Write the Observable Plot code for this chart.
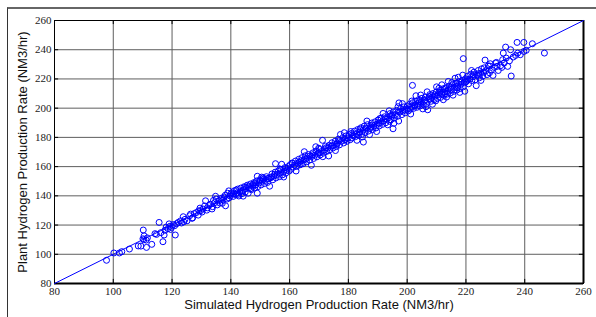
<!DOCTYPE html>
<html>
<head>
<meta charset="utf-8">
<script src="https://cdn.jsdelivr.net/npm/d3@7"></script>
<script src="https://cdn.jsdelivr.net/npm/@observablehq/plot@0.6"></script>
<style>
  html, body { margin: 0; padding: 0; background: #fff; overflow: hidden; }
  #wrap { position: relative; width: 596px; height: 317px; overflow: hidden; }
  #box { position: absolute; left: 7px; top: 7px; width: 700px; height: 400px;
         border-left: 1px solid #333; border-top: 2px solid #666; }
  #chart { position: absolute; left: 0; top: 0; }
  #chart svg g[aria-label="x-axis tick label"] text,
  #chart svg g[aria-label="y-axis tick label"] text { font-family: 'Liberation Serif', 'Times New Roman', serif; }
</style>
</head>
<body>
<div id="wrap"><div id="box"></div><div id="chart"></div></div>
<script>
const xTicks = [80, 100, 120, 140, 160, 180, 200, 220, 240, 260];
const yTicks = [80, 100, 120, 140, 160, 180, 200, 220, 240, 260];
const refLine = [80, 260];
const xTitle = "Simulated Hydrogen Production Rate (NM3/hr)";
const yTitle = "Plant Hydrogen Production Rate (NM3/hr)";

// [simulated, plant] pairs
const pointsLow = [
[97.7,95.9],[100.2,100.9],[102.1,100.9],[102.9,101.8],[105.5,103.6],[108.5,105.7],[109.4,105.6],[110.2,116.6],[110.5,112.6],[110.4,109.9],
[111.2,109.7],[110.1,110.6],[111.3,104.7],[113.1,106.8],[111.6,111.2],
[115.6,121.8],[114.7,113.6],[116.9,108.6],[117.3,113.2],[118.0,118.6],[118.6,117.5],[119.3,119.2],[119.8,118.4],[120.4,120.3],[120.9,119.6],
[121.1,113.2],[117.6,116.4],[119.0,120.8],[122.1,121.8],[122.9,122.9],[123.8,125.7],[123.2,121.4],[124.4,123.9],[125.1,122.9],[116.2,114.8],
[114.2,114.1],[119.5,117.0],[121.6,121.0],[124.0,122.2]
];
const pointsMid1 = [
[126.0,126.4],[126.3,127.5],[127.0,125.0],[128.3,128.6],[129.1,129.8],[129.7,129.8],[131.4,136.6],[133.1,134.3],[134.8,139.7],[135.9,136.6],
[137.4,137.3],[138.2,133.2],[139.3,143.4],[139.9,141.1],[130.5,131.0],[131.8,130.2],[132.5,133.4],[133.8,132.6],[134.5,135.3],[136.2,135.1],
[136.9,138.5],[137.8,139.2],[138.7,137.8],[139.4,138.6],[127.6,127.9],[128.9,126.8],[130.2,128.9],[132.0,131.8],[133.6,131.0],[135.4,133.8],
[136.6,137.2],[138.1,140.4],[139.8,139.9],[126.8,124.6],[129.5,131.6],[131.1,133.1],[134.1,136.9],[135.0,137.8],[137.1,134.9],[138.9,141.8],
[140.3,142.0],[140.8,139.6],[141.2,143.5],[141.6,140.8],[142.0,141.9],[142.3,144.6],[142.7,139.9],[143.1,142.7],[143.4,145.3],[143.8,141.5],
[144.1,143.8],[144.5,146.2],[144.9,142.6],[145.2,144.9],[145.6,147.3],[145.9,141.8],[146.3,145.6],[146.7,148.1],[147.0,144.2],[147.4,146.9],
[147.8,149.0],[148.1,145.4],[148.5,147.6],[148.8,150.2],[149.2,146.3],[149.6,148.8],[149.9,151.0],[150.3,147.5],[150.7,149.9],[151.0,152.3],
[151.4,148.4],[151.8,150.6],[152.1,153.1],[152.5,149.2],[152.9,151.7],[153.2,146.6],[153.6,152.4],[154.0,155.0],[154.3,151.0],[154.7,153.6],
[155.1,156.2],[155.4,152.3],[155.8,154.5],[156.2,157.1],[156.5,153.1],[156.9,155.7],[157.3,161.6],[157.6,154.4],[158.0,156.8],[158.4,159.3],
[158.7,155.5],[159.1,157.6],[159.5,160.0],[159.8,156.9],[141.0,141.4],[143.6,143.0],[146.0,146.5],[148.3,148.9],[150.1,150.4],[152.7,152.0],
[155.0,154.8],[157.1,157.9],[155.2,162.0],[158.0,152.9],[144.2,139.8],[149.0,153.4],[149.0,141.8],
[141.8,143.9],[145.0,146.0],[147.6,147.7],[151.2,151.5],[153.9,153.0],[156.7,158.4],[159.3,158.8],[142.5,141.0],[146.8,144.9],[150.5,152.8]
];
const pointsMid2 = [
[160.2,161.3],[160.5,158.2],[160.9,162.5],[161.3,159.6],[161.6,161.0],[162.0,163.8],[162.4,160.1],[162.7,162.4],[163.1,165.0],[163.5,161.2],
[163.8,163.9],[164.2,166.1],[164.6,162.0],[164.9,164.7],[165.3,167.4],[165.7,163.3],[166.0,165.8],[166.4,168.3],[166.8,164.5],[167.4,160.9],
[167.5,166.9],[167.9,169.4],[168.2,165.6],[168.6,167.8],[169.0,170.6],[169.3,166.7],[169.7,169.0],[170.1,171.8],[170.4,168.0],[170.8,170.3],
[171.2,178.0],[171.5,169.2],[171.9,171.5],[172.2,174.1],[172.6,170.4],[173.0,172.7],[173.3,167.3],[173.7,171.6],[174.1,173.9],[174.4,176.3],
[174.8,172.8],[175.2,175.0],[175.5,177.4],[175.9,173.7],[176.3,176.1],[176.6,178.8],[177.0,174.9],[177.3,182.0],[177.7,177.4],[178.1,179.8],
[178.4,176.2],[178.8,178.5],[179.2,181.0],[179.5,177.3],[179.9,179.6],[161.0,162.2],[163.3,163.0],[165.5,165.2],[167.8,168.1],[170.0,169.5],
[172.4,172.9],[174.6,174.3],[176.9,177.7],[179.0,178.6],[162.2,157.0],[168.9,173.6],[175.6,171.0],[178.6,183.2],[165.0,170.2],[171.3,166.8],
[180.2,181.9],[180.6,178.4],[181.0,182.7],[181.3,179.6],[181.7,181.1],[182.1,184.3],[182.4,180.5],[182.8,182.6],[183.2,185.4],[183.5,181.3],
[183.9,183.8],[184.3,186.6],[184.6,182.1],[185.0,184.9],[185.4,187.7],[185.7,183.2],[186.1,185.9],[186.5,188.7],[186.8,184.3],[187.2,181.9],
[187.6,187.1],[187.9,189.8],[188.3,185.4],[188.7,187.9],[189.0,190.6],[189.4,186.5],[189.8,189.0],[190.1,191.9],[190.5,187.8],[190.9,190.1],
[191.2,193.2],[191.6,188.9],[192.0,191.4],[192.3,194.1],[192.7,190.0],[193.1,192.5],[193.4,188.6],[193.8,193.6],[194.2,196.3],[194.5,192.1],
[194.9,194.5],[195.3,197.4],[195.6,193.2],[196.0,195.6],[196.4,198.5],[196.7,194.4],[197.1,191.2],[197.5,197.3],[197.8,199.8],[198.2,195.6],
[198.6,198.0],[198.9,200.9],[199.3,196.8],[199.7,199.2],[181.4,181.8],[183.7,183.2],[185.9,186.4],[188.1,188.5],[190.3,189.9],[192.6,192.8],
[194.7,195.3],[197.0,197.6],[199.1,198.7],[182.9,178.0],[186.3,191.2],[189.6,184.0],[191.8,196.4],[195.5,189.7],[198.4,203.1],[184.8,180.3],
[193.9,198.2],[196.9,201.0],[195.2,185.9],[185.1,176.8],[197.2,203.6],
[164.0,161.7],[166.9,167.3],[169.9,172.6],[173.5,174.6],[176.0,175.4],[180.8,184.0],[184.0,185.7],[187.4,186.2],[190.7,192.9],[194.0,191.0]
];
const pointsHigh = [
[200.1,201.5],[200.4,198.1],[200.8,202.6],[201.1,199.3],[201.5,200.8],[201.8,215.6],[201.9,203.7],[202.2,199.9],[202.6,202.3],[202.9,204.8],
[203.3,200.6],[203.7,203.2],[204.0,205.9],[204.4,201.5],[204.8,204.1],[205.1,206.8],[205.5,202.4],[205.9,204.9],[206.2,207.6],[206.6,203.3],
[207.0,198.9],[207.3,206.6],[207.7,209.3],[208.1,204.7],[208.4,207.4],[208.8,210.0],[209.2,205.8],[209.5,208.2],[209.9,211.1],[210.3,206.7],
[210.6,209.3],[211.0,212.0],[211.4,207.4],[211.7,210.1],[212.1,213.2],[212.5,208.7],[212.8,211.3],[213.2,214.0],[213.6,209.6],[213.9,212.2],
[214.3,215.1],[214.7,210.4],[215.0,213.0],[215.4,216.1],[215.8,211.5],[216.1,214.3],[216.5,217.0],[216.9,212.4],[217.2,215.2],[217.6,218.2],
[218.0,213.5],[218.3,216.3],[218.7,219.0],[219.1,214.6],[219.1,233.9],[219.4,217.3],[219.8,220.1],[200.9,200.5],[202.5,201.6],[204.2,204.6],
[206.0,205.6],[207.5,208.0],[209.3,209.1],[211.2,210.8],[212.9,213.4],[214.8,214.2],[216.6,216.9],[218.4,218.0],[201.2,196.0],[203.0,208.5],
[205.3,199.5],[206.8,211.2],[208.6,202.7],[210.0,214.6],[212.3,205.8],[214.0,218.3],[215.6,208.9],[217.4,221.2],[219.6,211.6],[209.7,205.0],
[213.4,207.6],[211.8,216.0],[204.6,209.0],[216.3,220.5],[218.9,222.6],[217.9,210.8],
[220.2,218.5],[220.5,221.8],[220.9,216.7],[221.3,220.0],[221.6,223.2],[222.0,218.9],[222.4,221.5],[222.7,224.6],[223.1,219.4],[223.5,215.4],
[223.8,222.7],[224.2,225.8],[224.6,220.8],[224.9,223.6],[225.3,226.9],[225.7,221.9],[226.0,224.7],[226.5,232.9],[226.8,225.6],[227.2,223.0],
[227.6,228.9],[228.0,224.2],[228.3,230.4],[228.7,226.2],[229.7,227.9],[230.6,228.6],[229.2,222.4],[230.1,230.9],[231.0,225.8],[231.8,229.1],
[232.2,227.9],[232.7,237.7],[233.0,230.9],[233.5,241.8],[233.7,234.3],[234.2,228.6],[234.8,232.4],[235.2,240.0],[235.4,222.0],[220.6,219.4],
[222.5,222.9],[224.4,223.7],[226.2,227.6],[228.1,228.8],[230.4,231.3],[232.5,233.2],[221.9,225.8],[225.1,219.0],
[236.1,235.0],[236.9,236.1],[237.4,245.0],[237.6,237.7],[238.5,236.6],[239.7,245.0],[239.7,238.8],[240.5,239.6],[242.6,244.1],[246.7,237.7],
[201.6,204.9],[203.9,202.0],[207.9,206.2],[210.8,213.6],[213.0,210.0],[215.2,217.5],[217.0,213.9],[219.9,217.8],[206.4,201.0],[212.0,209.4]
];
const points = [...pointsLow, ...pointsMid1, ...pointsMid2, ...pointsHigh];

const serif = "'Liberation Serif', 'Times New Roman', serif";
const sans = "'Liberation Sans', Arial, sans-serif";

const chart = Plot.plot({
  width: 596,
  height: 317,
  marginLeft: 54,
  marginRight: 13,
  marginTop: 20,
  marginBottom: 34,
  style: { background: "transparent", overflow: "visible", fontFamily: serif, fontSize: "11px" },
  x: { domain: [80, 260], ticks: xTicks },
  y: { domain: [80, 260], ticks: yTicks },
  marks: [
    Plot.gridX(xTicks, { stroke: "#5e5e5e", strokeOpacity: 1, strokeWidth: 1 }),
    Plot.gridY(yTicks, { stroke: "#5e5e5e", strokeOpacity: 1, strokeWidth: 1 }),
    Plot.ruleX(xTicks, { y1: 80, y2: 82.8, stroke: "#000" }),
    Plot.ruleX(xTicks, { y1: 260, y2: 257.2, stroke: "#000" }),
    Plot.ruleY(yTicks, { x1: 80, x2: 81.4, stroke: "#000" }),
    Plot.ruleY(yTicks, { x1: 260, x2: 258.6, stroke: "#000" }),
    Plot.frame({ stroke: "#000", strokeWidth: 1 }),
    Plot.ruleY([80], { stroke: "#000", strokeWidth: 2 }),
    Plot.ruleX([260], { stroke: "#000", strokeWidth: 2 }),
    Plot.line(refLine, { x: d => d, y: d => d, stroke: "#0000ff", strokeWidth: 1 }),
    Plot.dot(points, { x: d => d[0], y: d => d[1], r: 3, stroke: "#0000ff", strokeWidth: 1, fill: "none" }),
    Plot.axisX(xTicks, { tickSize: 0, tickPadding: 4, fontFamily: serif, fontSize: 11, fill: "#222", label: null }),
    Plot.axisY(yTicks, { tickSize: 0, tickPadding: 3, fontFamily: serif, fontSize: 11, fill: "#222", label: null }),
    Plot.text([xTitle], { frameAnchor: "bottom", dy: 25, fontFamily: sans, fontSize: 13, fill: "#111" }),
    Plot.text([yTitle], { frameAnchor: "left", dx: -32, rotate: -90, textAnchor: "middle", fontFamily: sans, fontSize: 13, fill: "#111" })
  ]
});
document.getElementById("chart").appendChild(chart);
</script>
</body>
</html>
